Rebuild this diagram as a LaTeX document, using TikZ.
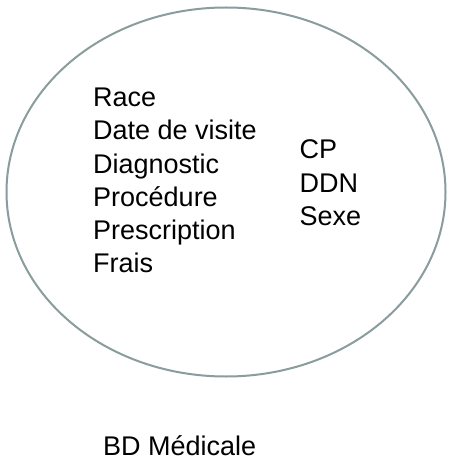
\documentclass[tikz,border=0pt]{standalone}
\usepackage{fontspec}
\setmainfont{Liberation Sans}
\usetikzlibrary{shapes.geometric}
\definecolor{ringgray}{HTML}{8A9C9C}
\begin{document}
\begin{tikzpicture}[x=1pt,y=-1pt,
  lbl/.style={inner sep=0pt, anchor=base west, font=\fontsize{27}{33}\selectfont, text=black}]
\useasboundingbox (0,0) rectangle (453,465);
\fill[white] (0,0) rectangle (453,465);
\node[draw=ringgray, line width=2pt, ellipse, minimum width=439pt, minimum height=369pt, inner sep=0pt, outer sep=0pt] (ring) at (226,192) {};
\node[lbl] (race) at (93,107) {Race};
\node[lbl] (date) at (93,140) {Date de visite};
\node[lbl] (diag) at (93,173) {Diagnostic};
\node[lbl] (proc) at (93,206) {Procédure};
\node[lbl] (presc) at (93,239) {Prescription};
\node[lbl] (frais) at (93,272) {Frais};
\node[lbl] (cp) at (299.5,159) {CP};
\node[lbl] (ddn) at (299.5,192) {DDN};
\node[lbl] (sexe) at (299.5,225) {Sexe};
\node[lbl] (bd) at (103,455.5) {BD Médicale};
\end{tikzpicture}
\end{document}
